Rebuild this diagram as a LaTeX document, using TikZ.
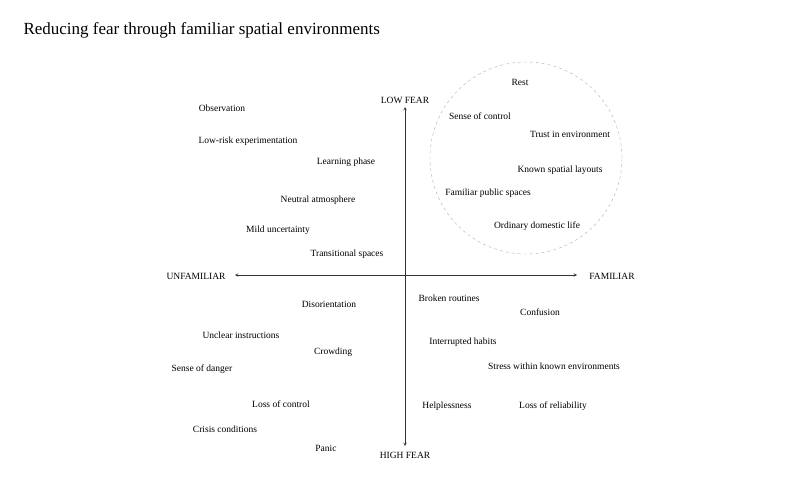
\documentclass[tikz,border=0pt]{standalone}
\usepackage{fontspec}
\setmainfont{Liberation Serif}
\begin{document}
\begin{tikzpicture}[x=1pt,y=-1pt,
  lab/.style={font=\fontsize{9.5}{11}\selectfont,inner sep=1pt},
  ax/.style={->,>=stealth,line width=0.5pt,black!80}]
\useasboundingbox[fill=white] (0,0) rectangle (804,503);
\node[anchor=west,font=\fontsize{17}{20}\selectfont] (title) at (20,30) {Reducing fear through familiar spatial environments};
\node[draw=black!30,dashed,circle,minimum size=192pt] (circ) at (526,158) {};
\node[lab] (low) at (405,100) {LOW FEAR};
\node[lab] (high) at (405,455) {HIGH FEAR};
\node[lab] (unf) at (196,276) {UNFAMILIAR};
\node[lab] (fam) at (612,276) {FAMILIAR};
\coordinate (c) at (405,275);
\draw[ax] (c) -- (405,107);
\draw[ax] (c) -- (405,446);
\draw[ax] (c) -- (235,275);
\draw[ax] (c) -- (577,275);
\foreach \t/\x/\y/\n in {Observation/222/108/a1,Low-risk experimentation/248/141/a2,Learning phase/346/162/a3,Neutral atmosphere/318/200/a4,Mild uncertainty/278/230/a5,Transitional spaces/347/254/a6,Rest/520/82/b1,Sense of control/480/116/b2,Trust in environment/570/134/b3,Known spatial layouts/560/170/b4,Familiar public spaces/488/193/b5,Ordinary domestic life/537/226/b6,Disorientation/329/304/c1,Broken routines/449/298/d1,Confusion/540/312/d2,Unclear instructions/241/335/c2,Crowding/333/352/c3,Interrupted habits/463/342/d3,Stress within known environments/554/366/d4,Sense of danger/202/369/c4,Loss of control/281/404/c5,Helplessness/447/406/d5,Loss of reliability/553/406/d6,Crisis conditions/225/429/c6,Panic/326/448/c7}
  \node[lab] (\n) at (\x,\y) {\t};
\end{tikzpicture}
\end{document}
